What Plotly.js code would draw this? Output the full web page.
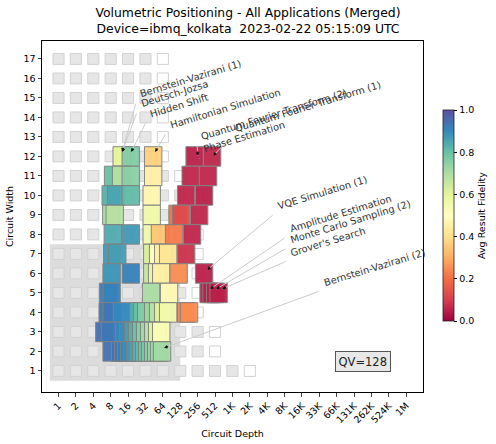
<!DOCTYPE html>
<html>
<head>
<meta charset="utf-8">
<script src="https://cdn.plot.ly/plotly-3.0.1.min.js"></script>
<style>
  body { margin: 0; background: #fff; }
  #fig { width: 496px; height: 444px; }
</style>
</head>
<body>
<div id="fig"></div>
<script>
/* Volumetric positioning, merged results of all applications */

// axis ticks
const depthLabels = ["1","2","4","8","16","32","64","128","256","512","1K","2K","4K","8K","16K","33K","66K","131K","262K","524K","1M"];
const widthTicks = [1,2,3,4,5,6,7,8,9,10,11,12,13,14,15,16,17];

const QV = 128;
// deepest gray background square for each width 1..17 (next one is white)
const bgMaxDepth = [1024,256,256,128,128,128,128,128,128,128,64,32,32,32,32,32,32];

// merged result boxes : width, depth, avg fidelity
const boxWidth = [
  12,12,12,12,12,
  11,11,11,11,11,11,
  10,10,10,10,10,10,
  9,9,9,9,9,9,
  8,8,8,8,8,8,
  7,7,7,7,7,7,7,
  6,6,6,6,6,6,6,
  5,5,5,5,5,5,5,5,
  4,4,4,4,4,4,4,4,4,4,4,4,
  3,3,3,3,3,3,3,3,3,3,3,3,
  2,2,2,2,2,2,2,2,2,2,2,2,2,2,2,2
];
const boxDepth = [
  12.4,17.8,43.5,227,456,
  8.8,12.1,17.8,43.5,194,388,
  8.0,10.0,17.8,41,162,331,
  8.2,9.4,41,115,133,272,
  8.7,17.8,41,57,100,205,
  8.5,10.4,42,53,65,79,162,
  8.3,17.8,42,51,60,120,331,
  7.2,8.3,40,82,396,446,514,591,
  7.1,8.3,12.6,24,28,33,43.5,53,65,79,162,182,
  6.2,7.8,13.7,16,19.6,23,27,31.6,37,43.5,51,60,
  8.3,11.7,13.2,14.8,16.7,18.9,21.2,24,27,30.4,34.3,38.6,43.5,49,55,62
];
const boxFid = [
  0.60,0.76,0.37,0.05,0.06,
  0.80,0.68,0.75,0.45,0.06,0.06,
  0.83,0.85,0.81,0.47,0.06,0.05,
  0.70,0.68,0.56,0.20,0.13,0.06,
  0.84,0.87,0.56,0.35,0.22,0.06,
  0.87,0.86,0.62,0.50,0.45,0.42,0.08,
  0.88,0.91,0.66,0.58,0.45,0.25,0.05,
  0.92,0.91,0.70,0.48,0.05,0.05,0.05,0.05,
  0.93,0.93,0.90,0.84,0.80,0.76,0.72,0.68,0.60,0.55,0.23,0.25,
  0.94,0.93,0.90,0.89,0.86,0.83,0.79,0.75,0.71,0.67,0.61,0.52,
  0.94,0.93,0.92,0.91,0.90,0.89,0.87,0.85,0.83,0.81,0.79,0.77,0.75,0.73,0.72,0.71
];

// application labels : text, arrow head (log2 depth, width), label start
const annoText = ["Bernstein-Vazirani (1)","Deutsch-Jozsa","Hidden Shift","Hamiltonian Simulation",
  "Quantum Fourier Transform (2)","Quantum Fourier Transform (1)","Phase Estimation","VQE Simulation (1)",
  "Amplitude Estimation","Monte Carlo Sampling (2)","Grover's Search","Bernstein-Vazirani (2)"];
const annoHeadX = [3.66,3.66,4.18,5.56,8.01,8.89,8.06,8.55,8.72,9.06,9.40,6.07];
const annoHeadY = [12.23,12.23,12.23,12.23,12.03,12.03,11.87,6.18,5.20,5.20,5.20,2.18];
const annoLabX  = [4.47,4.52,5.04,6.19,7.97,9.93,8.14,12.40,13.09,13.14,13.14,15.04];
const annoLabY  = [14.79,14.28,13.77,13.21,12.59,13.00,11.97,9.05,7.87,7.31,6.64,5.10];

// matplotlib "Spectral"
const spectral = ["#9e0142","#d53e4f","#f46d43","#fdae61","#fee08b","#ffffbf",
                  "#e6f598","#abdda4","#66c2a5","#3288bd","#5e4fa2"];

function hex2rgb (h) {
  return [parseInt(h.slice(1,3),16), parseInt(h.slice(3,5),16), parseInt(h.slice(5,7),16)];
}
function fidColor (f) {
  let t = Math.min(Math.max(f,0),1) * 10;
  let i = Math.min(Math.floor(t), 9);
  let u = t - i;
  let a = hex2rgb(spectral[i]), b = hex2rgb(spectral[i+1]);
  let c = a.map((v,j) => Math.round(v + (b[j]-v)*u));
  return "rgb(" + c.join(",") + ")";
}

const xRange = [-0.95, 20.96];
const yRange = [-0.08, 17.92];
const plotW = 496 - 42 - 73, plotH = 444 - 41 - 52;

let shapes = [];

// QV region
shapes.push({type:'rect', xref:'x', yref:'y', layer:'below',
  x0:-0.5, x1:Math.log2(QV), y0:0.5, y1:Math.log2(QV)+0.5,
  fillcolor:'#dcdcdc', line:{width:0}});

// background squares
const hx = 0.32, hy = 0.28;
bgMaxDepth.forEach((d, i) => {
  let w = i + 1;
  let kmax = Math.log2(d);
  for (let k = 0; k <= kmax + 1; k++) {
    let gray = k <= kmax;
    shapes.push({type:'rect', xref:'x', yref:'y', layer:'below',
      x0:k-hx, x1:k+hx, y0:w-hy, y1:w+hy,
      fillcolor: gray ? '#e6e6e6' : '#ffffff',
      line:{color:'#d2d2d2', width:1}});
  }
});

// result boxes
let boxX = boxDepth.map(d => Math.log2(d));
boxX.forEach((k, i) => {
  shapes.push({type:'rect', xref:'x', yref:'y', layer:'below',
    x0:k-0.5, x1:k+0.5, y0:boxWidth[i]-0.5, y1:boxWidth[i]+0.5,
    fillcolor: fidColor(boxFid[i]), opacity:0.95,
    line:{color:'rgb(128,128,128)', width:1}});
});

let annotations = [];
const sx = plotW / (xRange[1]-xRange[0]), sy = plotH / (yRange[1]-yRange[0]);
annoText.forEach((t, i) => {
  let x = annoHeadX[i], y = annoHeadY[i];
  let ax = annoLabX[i], ay = annoLabY[i];
  annotations.push({x:x, y:y, xref:'x', yref:'y', axref:'x', ayref:'y', ax:ax, ay:ay,
    text:'', showarrow:true, arrowhead:0, arrowwidth:1, arrowcolor:'#cccccc'});
  let L = Math.hypot((ax-x)*sx, (ay-y)*sy);
  let f = Math.min(1, 6 / L);
  annotations.push({x:x, y:y, xref:'x', yref:'y', axref:'x', ayref:'y',
    ax:x+(ax-x)*f, ay:y+(ay-y)*f,
    text:'', showarrow:true, arrowhead:2, arrowsize:0.7, arrowwidth:1, arrowcolor:'#111'});
  annotations.push({x:ax, y:ay, xref:'x', yref:'y', text:t, showarrow:false,
    xanchor:'left', yanchor:'bottom', textangle:-17,
    font:{size:9.8, color:'#333'}});
});

annotations.push({x:(363-42)/plotW, y:(392-361)/plotH, xref:'paper', yref:'paper',
  xanchor:'center', yanchor:'middle',
  text:'QV=128', showarrow:false, font:{size:11.5, color:'#222'},
  bgcolor:'#e8e8e8', bordercolor:'#555', borderwidth:1, borderpad:2.5});

// invisible markers carry the colour scale
let cscale = spectral.map((c, i) => [i/10, c]);
let series = [{
  x: boxX, y: boxWidth, mode:'markers', type:'scatter', hoverinfo:'skip', showlegend:false,
  marker:{size:1, opacity:0, color:boxFid, cmin:0, cmax:1, colorscale:cscale, showscale:true,
    colorbar:{thickness:11, thicknessmode:'pixels', len:211, lenmode:'pixels',
      x:(443-42)/plotW, xanchor:'left', xpad:0, y:(392-215.5)/plotH, yanchor:'middle', ypad:0,
      tickvals:[0,0.2,0.4,0.6,0.8,1], ticktext:['0.0','0.2','0.4','0.6','0.8','1.0'],
      ticks:'outside', ticklen:3.5, tickcolor:'#000', tickfont:{size:9.5},
      outlinewidth:0.8, outlinecolor:'#222',
      title:{text:'Avg Result Fidelity', side:'right', font:{size:9.5}}}}
}];

let layout = {
  width:496, height:444,
  margin:{l:42, r:73, t:41, b:52, autoexpand:false},
  paper_bgcolor:'#fff', plot_bgcolor:'#fff',
  font:{family:'DejaVu Sans', size:9.5, color:'#000'},
  title:{text:'Volumetric Positioning - All Applications (Merged)<br>Device=ibmq_kolkata\u00a0 2023-02-22 05:15:09 UTC',
         x:0.5, xanchor:'center', y:0.962, yanchor:'top', font:{size:12.4}},
  xaxis:{range:xRange, tickvals:depthLabels.map((s,i)=>i), ticktext:depthLabels, tickangle:-45,
         showline:true, mirror:true, linecolor:'#000', linewidth:1, ticks:'outside', ticklen:3.5,
         showgrid:false, zeroline:false, automargin:true,
         title:{text:'Circuit Depth', font:{size:9.5}, standoff:6}},
  yaxis:{range:yRange, tickvals:widthTicks, showline:true, mirror:true, linecolor:'#000', linewidth:1,
         ticks:'outside', ticklen:3.5, showgrid:false, zeroline:false, automargin:false,
         title:{text:'Circuit Width', font:{size:9.5}}},
  shapes:shapes, annotations:annotations, showlegend:false
};

Plotly.newPlot('fig', series, layout, {staticPlot:true});
</script>
</body>
</html>
